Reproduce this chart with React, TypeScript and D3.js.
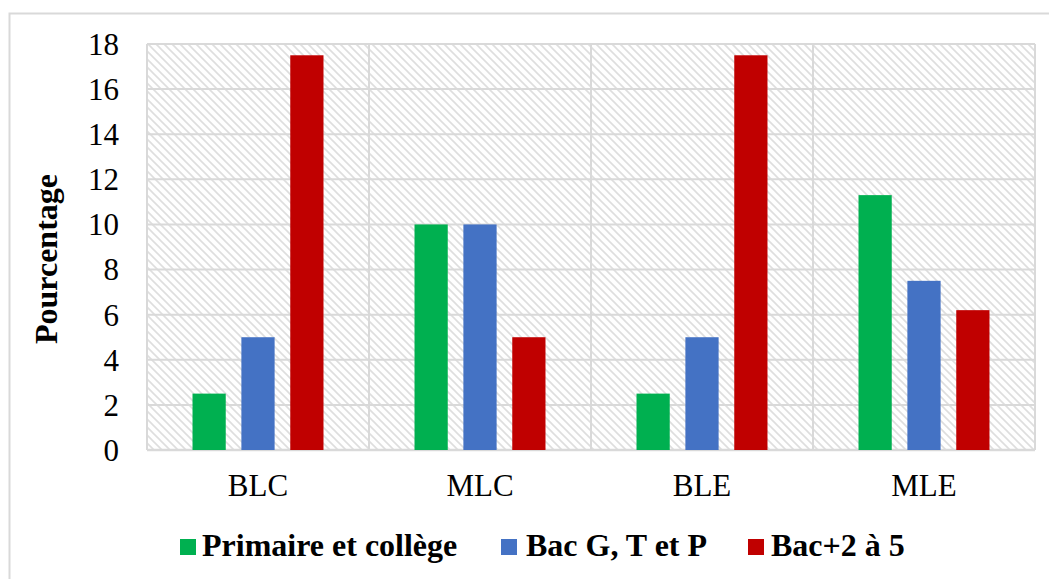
import React from "react";
import * as d3 from "d3";

const categories = ["BLC", "MLC", "BLE", "MLE"];
const seriesNames = ["Primaire et collège", "Bac G, T et P", "Bac+2 à 5"];
const primaire = [2.5, 10, 2.5, 11.3];
const bacGTP = [5, 10, 5, 7.5];
const bac2a5 = [17.5, 5, 17.5, 6.2];
const yTicks = [0, 2, 4, 6, 8, 10, 12, 14, 16, 18];
const colors = ["#00b050", "#4472c4", "#c00000"];

const W = 1049;
const H = 579;
const plot = { left: 147, right: 1035, top: 44, bottom: 450 };
const FONT = "'Liberation Serif', 'Times New Roman', serif";

export default function App() {
  const series = [primaire, bacGTP, bac2a5];
  const x0 = d3.scaleBand<string>().domain(categories).range([plot.left, plot.right]).paddingInner(0).paddingOuter(0);
  const bw0 = x0.bandwidth();
  const x1 = d3
    .scaleBand<number>()
    .domain([0, 1, 2])
    .range([bw0 * 0.205, bw0 * 0.795])
    .paddingInner(0.32)
    .paddingOuter(0);
  const y = d3.scaleLinear().domain([0, 18]).range([plot.bottom, plot.top]);

  const gridColor = "#d9d9d9";
  const boundaries = categories.map((c) => x0(c) as number).concat([plot.right]);

  const legendItems = [
    { sq: 180, tx: 202 },
    { sq: 501, tx: 526 },
    { sq: 748, tx: 771 },
  ];

  return (
    <div style={{ position: "absolute", left: 0, top: 0 }}>
      <svg width={W} height={H} style={{ display: "block", background: "#fff" }}>
        <defs>
          <pattern id="hatch" patternUnits="userSpaceOnUse" width="8" height="8">
            <rect width="8" height="8" fill="#ffffff" />
            <path d="M0,0 L8,8 M-4,4 L4,12 M4,-4 L12,4" stroke="#dedede" strokeWidth="1.6" />
          </pattern>
        </defs>
        <rect x={9.5} y={13.5} width={1060} height={600} fill="none" stroke={gridColor} strokeWidth={2} />
        <rect x={plot.left} y={plot.top} width={plot.right - plot.left} height={plot.bottom - plot.top} fill="url(#hatch)" />
        {yTicks.map((t) => (
          <line key={"g" + t} x1={plot.left} x2={plot.right} y1={y(t)} y2={y(t)} stroke={gridColor} strokeWidth={2} />
        ))}
        {boundaries.map((b, i) => (
          <line key={"v" + i} x1={b} x2={b} y1={plot.top} y2={plot.bottom} stroke={gridColor} strokeWidth={2} />
        ))}
        <line x1={plot.left} x2={plot.right} y1={plot.bottom} y2={plot.bottom} stroke={gridColor} strokeWidth={2.5} />
        {categories.map((c, ci) =>
          series.map((s, si) => (
            <rect
              key={c + si}
              x={(x0(c) as number) + (x1(si) as number)}
              y={y(s[ci])}
              width={x1.bandwidth()}
              height={plot.bottom - y(s[ci])}
              fill={colors[si]}
            />
          ))
        )}
        {yTicks.map((t) => (
          <text key={"t" + t} x={119} y={y(t)} dy="0.35em" textAnchor="end" fontFamily={FONT} fontSize={31} fill="#000">
            {t}
          </text>
        ))}
        {categories.map((c) => (
          <text key={"c" + c} x={(x0(c) as number) + bw0 / 2} y={496} textAnchor="middle" fontFamily={FONT} fontSize={31} fill="#000">
            {c}
          </text>
        ))}
        <text
          transform={`translate(57, ${(plot.top + plot.bottom) / 2 + 12}) rotate(-90)`}
          textAnchor="middle"
          fontFamily={FONT}
          fontSize={32}
          fontWeight="bold"
          fill="#000"
        >
          Pourcentage
        </text>
        {seriesNames.map((n, i) => (
          <g key={"l" + i}>
            <rect x={legendItems[i].sq} y={539} width={16} height={16} fill={colors[i]} />
            <text x={legendItems[i].tx} y={556} fontFamily={FONT} fontSize={32} fontWeight="bold" fill="#000">
              {n}
            </text>
          </g>
        ))}
      </svg>
    </div>
  );
}
